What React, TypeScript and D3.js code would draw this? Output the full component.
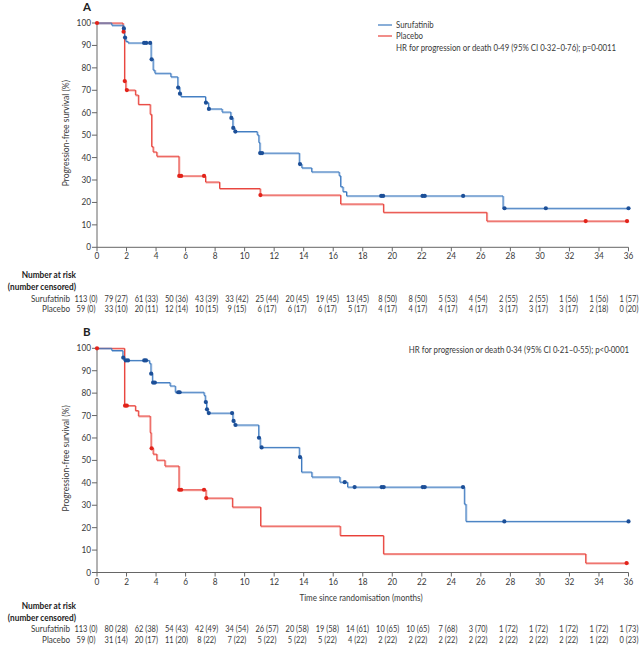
import React from 'react';
import * as d3 from 'd3';

const xTicks = [0, 2, 4, 6, 8, 10, 12, 14, 16, 18, 20, 22, 24, 26, 28, 30, 32, 34, 36];
const yTicks = [0, 10, 20, 30, 40, 50, 60, 70, 80, 90, 100];

// Panel A – Surufatinib
const aSuruT = [1.0, 1.8, 1.86, 1.95, 2.1, 3.66, 3.8, 3.92, 5.0, 5.47, 5.6, 5.68, 7.35, 7.55, 8.47, 9.06, 9.2, 9.33, 10.85, 10.96, 11.03, 13.7, 13.87, 14.54, 16.4, 16.5, 16.66, 16.9, 27.5];
const aSuruS = [99, 97.6, 93.5, 91.8, 91.1, 83.8, 79, 77.6, 76, 71.2, 68.5, 67.2, 64.5, 61.7, 60.3, 57.7, 53.2, 51.6, 50.1, 46.7, 42.0, 37.1, 35.4, 33.6, 31.9, 27, 24.8, 22.9, 17.4];
const aSuruC = [1.82, 1.9, 3.19, 3.33, 3.6, 3.7, 5.5, 5.62, 7.38, 7.58, 9.1, 9.23, 9.37, 11.05, 11.18, 13.75, 19.25, 19.38, 22.05, 22.2, 24.8, 27.6, 30.4, 36];
// Panel A – Placebo
const aPlacT = [1.76, 1.86, 1.95, 2.6, 2.8, 3.6, 3.7, 3.8, 4.05, 5.55, 7.35, 8.3, 11.05, 16.5, 19.4, 26.4];
const aPlacS = [96.1, 74.1, 70.1, 67.9, 63.7, 59.3, 44.9, 42.5, 40.6, 31.8, 29.1, 26.2, 23.3, 19.3, 15.6, 11.7];
const aPlacC = [0, 1.8, 1.88, 2.02, 5.57, 5.7, 7.25, 11.07, 33.1, 35.9];

// Panel B – Surufatinib
const bSuruT = [1.0, 1.75, 1.82, 3.55, 3.65, 3.75, 4.95, 5.3, 7.25, 7.33, 7.42, 7.5, 9.2, 9.3, 10.95, 11.05, 13.7, 13.85, 14.55, 16.45, 16.97, 24.88, 24.99];
const bSuruS = [99, 95.8, 94.6, 93.3, 88.7, 84.7, 83.2, 80.4, 79, 76, 72.8, 71.1, 67.6, 65.8, 60.1, 55.8, 51.5, 44.8, 42.6, 40.3, 38.1, 30.5, 22.8];
const bSuruC = [1.78, 1.95, 2.1, 3.2, 3.32, 3.67, 3.8, 3.92, 5.5, 5.6, 7.37, 7.45, 7.57, 9.15, 9.25, 9.38, 10.97, 11.15, 13.75, 16.78, 17.45, 19.28, 19.42, 22.06, 22.2, 24.79, 27.59, 36];
// Panel B – Placebo
const bPlacT = [1.86, 2.6, 2.8, 3.6, 3.66, 3.8, 4.05, 4.6, 5.55, 7.38, 9.17, 11.08, 16.47, 19.4, 33.1];
const bPlacS = [74.4, 72.2, 69.8, 62.4, 55.4, 52.8, 50.1, 47.5, 36.9, 33.2, 29.2, 20.7, 16.5, 8.3, 4.2];
const bPlacC = [0, 1.9, 2.02, 3.7, 5.57, 5.7, 7.25, 7.4, 35.87];

const riskAS = ["113 (0)", "79 (27)", "61 (33)", "50 (36)", "43 (39)", "33 (42)", "25 (44)", "20 (45)", "19 (45)", "13 (45)", "8 (50)", "8 (50)", "5 (53)", "4 (54)", "2 (55)", "2 (55)", "1 (56)", "1 (56)", "1 (57)"];
const riskAP = ["59 (0)", "33 (10)", "20 (11)", "12 (14)", "10 (15)", "9 (15)", "6 (17)", "6 (17)", "6 (17)", "5 (17)", "4 (17)", "4 (17)", "4 (17)", "4 (17)", "3 (17)", "3 (17)", "3 (17)", "2 (18)", "0 (20)"];
const riskBS = ["113 (0)", "80 (28)", "62 (38)", "54 (43)", "42 (49)", "34 (54)", "26 (57)", "20 (58)", "19 (58)", "14 (61)", "10 (65)", "10 (65)", "7 (68)", "3 (70)", "1 (72)", "1 (72)", "1 (72)", "1 (72)", "1 (73)"];
const riskBP = ["59 (0)", "31 (14)", "20 (17)", "11 (20)", "8 (22)", "7 (22)", "5 (22)", "5 (22)", "5 (22)", "4 (22)", "2 (22)", "2 (22)", "2 (22)", "2 (22)", "2 (22)", "2 (22)", "2 (22)", "1 (22)", "0 (23)"];

const seriesNames = ["Surufatinib", "Placebo"];
const hrA = "HR for progression or death 0·49 (95% CI 0·32–0·76); p=0·0011";
const hrB = "HR for progression or death 0·34 (95% CI 0·21–0·55); p<0·0001";

const FONT = "Lato, 'Noto Sans', sans-serif";
const BLUE = "#3b78be";
const BLUE_L = "#a9c5e6";
const BLUE_D = "#1c4f98";
const RED = "#e8403a";
const RED_L = "#f5aaa5";
const RED_D = "#e2231a";
const TXT = "#3a3a3a";
const AX = "#666";

const x = d3.scaleLinear().domain([0, 36]).range([97, 628.5]);
const riskX = d3.scaleLinear().domain([0, 36]).range([86, 629]);

function stepPts(T: number[], S: number[]): [number, number][] {
  const pts: [number, number][] = [[0, 100]];
  T.forEach((t, i) => pts.push([t, S[i]]));
  pts.push([36, S[S.length - 1]]);
  return pts;
}
function valAt(T: number[], S: number[], t: number) {
  let v = 100;
  for (let i = 0; i < T.length; i++) if (T[i] <= t) v = S[i];
  return v;
}

type TProps = { x: number; y: number; sx?: number; anchor?: string; size?: number; weight?: number; fill?: string; children: React.ReactNode };
function T({ x, y, sx = 0.87, anchor = "start", size = 9, weight = 400, fill = TXT, children }: TProps) {
  return (
    <text transform={`translate(${x},${y}) scale(${sx},1)`} textAnchor={anchor} fontSize={size}
      fontWeight={weight} fill={fill} fontFamily={FONT}>{children}</text>
  );
}

type PanelProps = {
  y0: number; y100: number; label: string; hr: string; legend: boolean;
  sT: number[]; sS: number[]; sC: number[]; pT: number[]; pS: number[]; pC: number[];
  rs: string[]; rp: string[]; risk: number[]; timeLabel: boolean;
};

function Panel(p: PanelProps) {
  const y = d3.scaleLinear().domain([0, 100]).range([p.y0, p.y100]);
  const line = d3.line<[number, number]>().x(d => x(d[0])).y(d => y(d[1])).curve(d3.curveStepAfter);
  const sPath = line(stepPts(p.sT, p.sS)) || "";
  const pPath = line(stepPts(p.pT, p.pS)) || "";
  const [rN, rC, rS, rP] = p.risk;
  return (
    <g>
      <text x={83} y={p.y100 - 12} fontSize={11.5} fontWeight={700} fill="#222" fontFamily={FONT}>{p.label}</text>
      {/* axes */}
      <line x1={x(0)} x2={x(0)} y1={y(100)} y2={y(0)} stroke={AX} strokeWidth={1} />
      <line x1={x(0)} x2={x(36)} y1={y(0)} y2={y(0)} stroke={AX} strokeWidth={1} />
      {yTicks.map(t => (
        <g key={"y" + t}>
          <line x1={x(0) - 5} x2={x(0)} y1={y(t)} y2={y(t)} stroke={AX} />
          <T x={x(0) - 6} y={y(t) + 3} anchor="end" sx={0.92}>{t}</T>
        </g>
      ))}
      {xTicks.map(t => (
        <g key={"x" + t}>
          <line x1={x(t)} x2={x(t)} y1={y(0)} y2={y(0) + 4} stroke={AX} />
          <T x={x(t)} y={y(0) + 12} anchor="middle" sx={0.92}>{t}</T>
        </g>
      ))}
      <text transform={`translate(69,${(y(0) + y(100)) / 2 - 2}) rotate(-90) scale(0.95,1)`} textAnchor="middle" fontSize={9} fill={TXT} fontFamily={FONT}>Progression-free survival (%)</text>
      {/* curves */}
      <path d={pPath} fill="none" stroke={RED_L} strokeWidth={1.2} transform="translate(0.8,0.8)" />
      <path d={sPath} fill="none" stroke={BLUE_L} strokeWidth={1.2} transform="translate(0.8,0.8)" />
      <path d={pPath} fill="none" stroke={RED} strokeWidth={1} />
      <path d={sPath} fill="none" stroke={BLUE} strokeWidth={1} />
      {p.sC.map((c, i) => <circle key={"sc" + i} cx={x(c)} cy={y(valAt(p.sT, p.sS, c))} r={2.1} fill={BLUE_D} />)}
      {p.pC.map((c, i) => <circle key={"pc" + i} cx={x(c)} cy={y(valAt(p.pT, p.pS, c))} r={2.1} fill={RED_D} />)}
      {/* legend / HR */}
      {p.legend ? (
        <g>
          <line x1={378} x2={392} y1={25} y2={25} stroke={BLUE} strokeWidth={1.2} />
          <T x={396} y={28}>{seriesNames[0]}</T>
          <line x1={378} x2={392} y1={36} y2={36} stroke={RED} strokeWidth={1.2} />
          <T x={396} y={39}>{seriesNames[1]}</T>
          <T x={396} y={50.5} sx={0.875}>{p.hr}</T>
        </g>
      ) : (
        <T x={629} y={353} anchor="end" sx={0.875}>{p.hr}</T>
      )}
      {p.timeLabel && (
        <T x={361} y={601} anchor="middle" sx={0.9}>Time since randomisation (months)</T>
      )}
      {/* risk table */}
      <T x={76} y={rN} anchor="end" weight={700} fill="#222" sx={0.92}>Number at risk</T>
      <T x={76} y={rC} anchor="end" weight={700} fill="#222" sx={0.92}>(number censored)</T>
      <T x={70} y={rS} anchor="end" sx={0.9}>{seriesNames[0]}</T>
      <T x={70} y={rP} anchor="end" sx={0.9}>{seriesNames[1]}</T>
      {p.rs.map((s, i) => <T key={"rs" + i} x={riskX(xTicks[i])} y={rS} anchor="middle" sx={0.83}>{s}</T>)}
      {p.rp.map((s, i) => <T key={"rp" + i} x={riskX(xTicks[i])} y={rP} anchor="middle" sx={0.83}>{s}</T>)}
    </g>
  );
}

export default function App() {
  return (
    <svg width={641} height={653} style={{ position: 'absolute', left: 0, top: 0, background: '#fff' }}>
      <rect width={641} height={653} fill="#fff" />
      <Panel y0={247.3} y100={23} label="A" hr={hrA} legend={true}
        sT={aSuruT} sS={aSuruS} sC={aSuruC} pT={aPlacT} pS={aPlacS} pC={aPlacC}
        rs={riskAS} rp={riskAP} risk={[278, 290, 301.5, 312]} timeLabel={false} />
      <Panel y0={572.5} y100={348.3} label="B" hr={hrB} legend={false}
        sT={bSuruT} sS={bSuruS} sC={bSuruC} pT={bPlacT} pS={bPlacS} pC={bPlacC}
        rs={riskBS} rp={riskBP} risk={[609, 621, 632, 643]} timeLabel={true} />
    </svg>
  );
}
